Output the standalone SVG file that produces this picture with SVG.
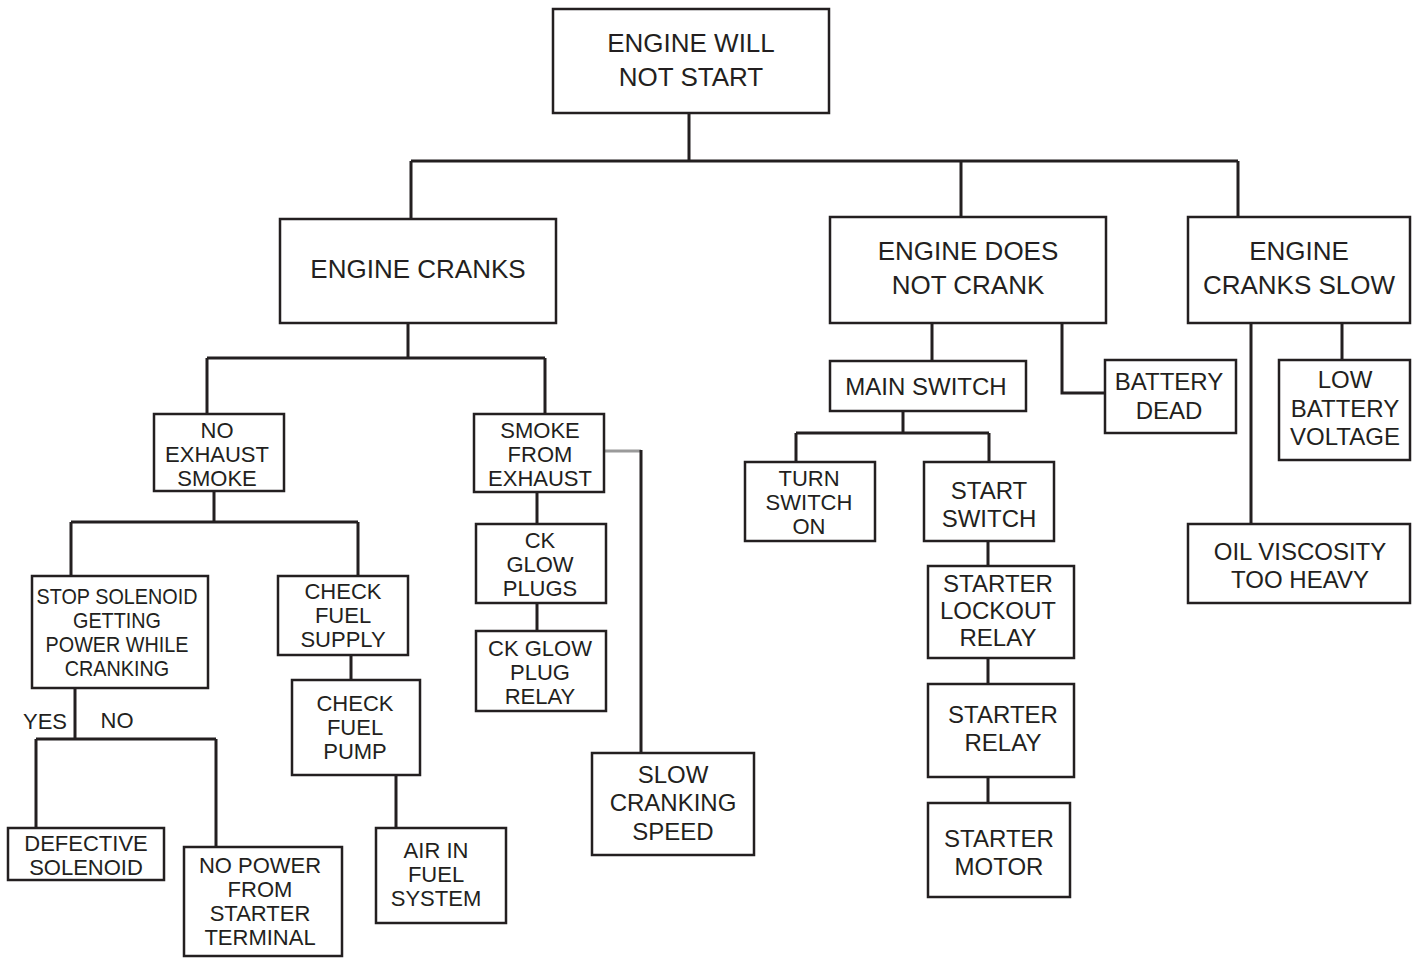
<svg xmlns="http://www.w3.org/2000/svg" width="1417" height="958" viewBox="0 0 1417 958">
<style>
.box{fill:#fff;stroke:#231f20;stroke-width:2.5}
.c{fill:none;stroke:#231f20;stroke-width:3}
.g{fill:none;stroke:#9a9a9a;stroke-width:3}
text{font-family:"Liberation Sans",Arial,sans-serif;fill:#231f20;text-anchor:middle;font-size:22px}
.L{font-size:26px}
.M{font-size:24px}
.n{transform-box:fill-box;transform-origin:center;transform:scaleX(0.9)}
</style>
<rect width="1417" height="958" fill="#fff"/>
<g id="connectors">
<path class="c" d="M689 113V161M411 161H1238M411 161V219M961 161V217M1238 161V217"/>
<path class="c" d="M408 323V358M207 358H545M207 358V414M545 358V414"/>
<path class="c" d="M214 491V522M71 522H358M71 522V576M358 522V576"/>
<path class="c" d="M75 688V739M36 739H216M36 739V828M216 739V847"/>
<path class="c" d="M351 655V680M396 775V828"/>
<path class="c" d="M537 492V524M537 603V631"/>
<path class="g" d="M604 451H641"/>
<path class="c" d="M641 450V753"/>
<path class="c" d="M932 323V361M1062 323V393H1105"/>
<path class="c" d="M903 411V433M796 433H989M796 433V462M989 433V462"/>
<path class="c" d="M988 541V566M988 658V684M988 777V803"/>
<path class="c" d="M1251 323V524M1342 323V360"/>
</g>
<g id="n-top"><rect class="box" x="553" y="9" width="276" height="104"/><text class="L" x="691" y="52">ENGINE WILL</text><text class="L" x="691" y="86">NOT START</text></g>
<g id="n-cranks"><rect class="box" x="280" y="219" width="276" height="104"/><text class="L" x="418" y="278">ENGINE CRANKS</text></g>
<g id="n-nocrank"><rect class="box" x="830" y="217" width="276" height="106"/><text class="L" x="968" y="260">ENGINE DOES</text><text class="L" x="968" y="294">NOT CRANK</text></g>
<g id="n-slow"><rect class="box" x="1188" y="217" width="222" height="106"/><text class="L" x="1299" y="260">ENGINE</text><text class="L" x="1299" y="294">CRANKS SLOW</text></g>
<g id="n-noexhaust"><rect class="box" x="154" y="414" width="130" height="77"/><text x="217" y="438">NO</text><text x="217" y="462">EXHAUST</text><text x="217" y="486">SMOKE</text></g>
<g id="n-smoke"><rect class="box" x="474" y="414" width="130" height="78"/><text x="540" y="438">SMOKE</text><text x="540" y="462">FROM</text><text x="540" y="486">EXHAUST</text></g>
<g id="n-stopsol"><rect class="box" x="32" y="576" width="176" height="112"/><text class="n" x="117" y="604">STOP SOLENOID</text><text class="n" x="117" y="628">GETTING</text><text class="n" x="117" y="652">POWER WHILE</text><text class="n" x="117" y="676">CRANKING</text></g>
<g id="n-fuelsupply"><rect class="box" x="278" y="576" width="130" height="79"/><text x="343" y="599">CHECK</text><text x="343" y="623">FUEL</text><text x="343" y="647">SUPPLY</text></g>
<g id="n-fuelpump"><rect class="box" x="292" y="680" width="128" height="95"/><text x="355" y="711">CHECK</text><text x="355" y="735">FUEL</text><text x="355" y="759">PUMP</text></g>
<g id="n-air"><rect class="box" x="376" y="828" width="130" height="95"/><text x="436" y="858">AIR IN</text><text x="436" y="882">FUEL</text><text x="436" y="906">SYSTEM</text></g>
<g id="labels"><text x="45" y="729">YES</text><text x="117" y="728">NO</text></g>
<g id="n-defsol"><rect class="box" x="8" y="828" width="156" height="52"/><text x="86" y="851">DEFECTIVE</text><text x="86" y="875">SOLENOID</text></g>
<g id="n-nopower"><rect class="box" x="184" y="847" width="158" height="109"/><text x="260" y="873">NO POWER</text><text x="260" y="897">FROM</text><text x="260" y="921">STARTER</text><text x="260" y="945">TERMINAL</text></g>
<g id="n-glowplugs"><rect class="box" x="476" y="524" width="130" height="79"/><text x="540" y="548">CK</text><text x="540" y="572">GLOW</text><text x="540" y="596">PLUGS</text></g>
<g id="n-glowrelay"><rect class="box" x="476" y="631" width="130" height="80"/><text x="540" y="656">CK GLOW</text><text x="540" y="680">PLUG</text><text x="540" y="704">RELAY</text></g>
<g id="n-slowspeed"><rect class="box" x="592" y="753" width="162" height="102"/><text class="M" x="673" y="783">SLOW</text><text class="M" x="673" y="811">CRANKING</text><text class="M" x="673" y="840">SPEED</text></g>
<g id="n-mainswitch"><rect class="box" x="830" y="361" width="196" height="50"/><text class="M" x="926" y="395">MAIN SWITCH</text></g>
<g id="n-turnon"><rect class="box" x="745" y="462" width="130" height="79"/><text x="809" y="486">TURN</text><text x="809" y="510">SWITCH</text><text x="809" y="534">ON</text></g>
<g id="n-startswitch"><rect class="box" x="924" y="462" width="130" height="79"/><text class="M" x="989" y="499">START</text><text class="M" x="989" y="527">SWITCH</text></g>
<g id="n-lockout"><rect class="box" x="928" y="566" width="146" height="92"/><text class="M" x="998" y="592">STARTER</text><text class="M" x="998" y="619">LOCKOUT</text><text class="M" x="998" y="646">RELAY</text></g>
<g id="n-starterrelay"><rect class="box" x="928" y="684" width="146" height="93"/><text class="M" x="1003" y="723">STARTER</text><text class="M" x="1003" y="751">RELAY</text></g>
<g id="n-motor"><rect class="box" x="928" y="803" width="142" height="94"/><text class="M" x="999" y="847">STARTER</text><text class="M" x="999" y="875">MOTOR</text></g>
<g id="n-battdead"><rect class="box" x="1105" y="360" width="131" height="73"/><text class="M" x="1169" y="390">BATTERY</text><text class="M" x="1169" y="419">DEAD</text></g>
<g id="n-lowbatt"><rect class="box" x="1279" y="360" width="131" height="100"/><text class="M" x="1345" y="388">LOW</text><text class="M" x="1345" y="417">BATTERY</text><text class="M" x="1345" y="445">VOLTAGE</text></g>
<g id="n-oil"><rect class="box" x="1188" y="524" width="222" height="79"/><text class="M" x="1300" y="560">OIL VISCOSITY</text><text class="M" x="1300" y="588">TOO HEAVY</text></g>
</svg>
